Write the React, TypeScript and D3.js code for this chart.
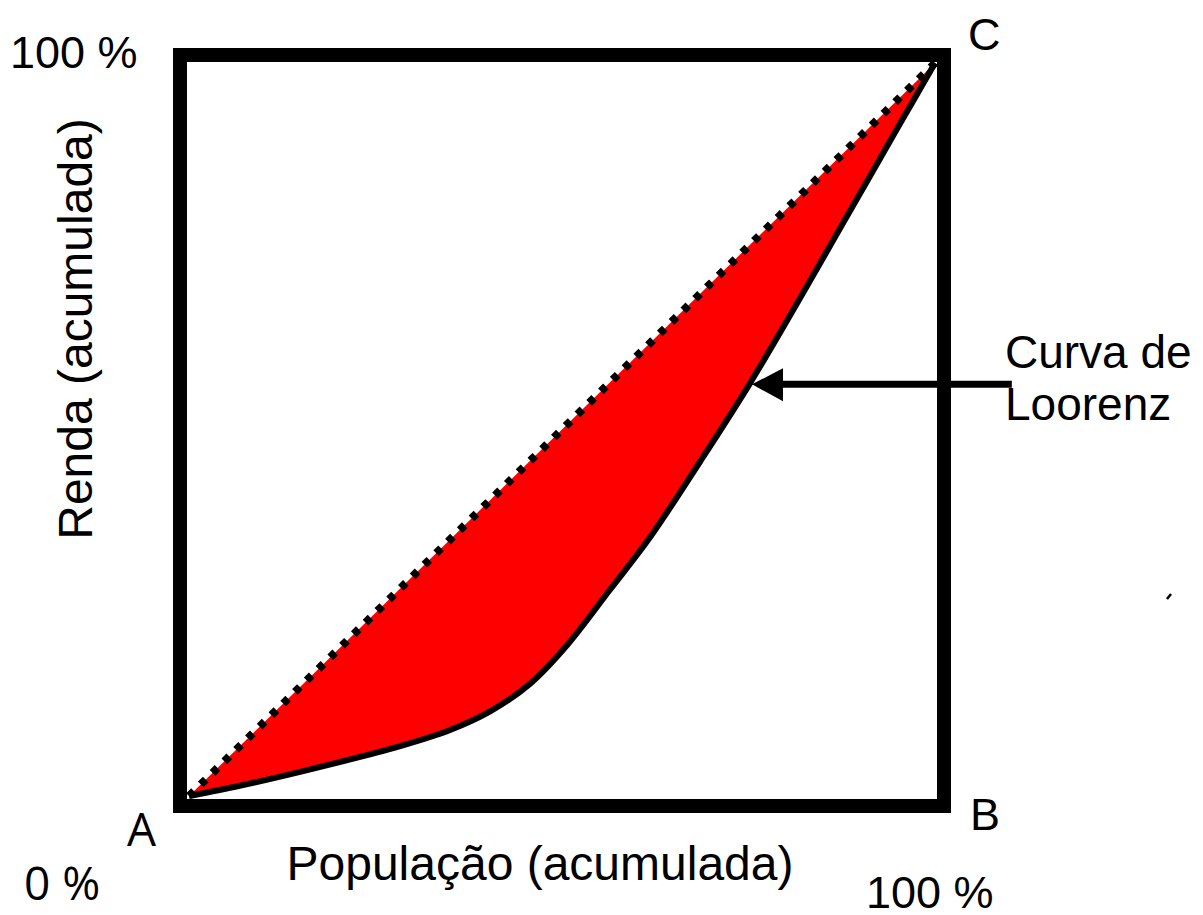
import * as d3 from "d3";

// cumulative population share (x) and income share (y)
const popShare = [0, 0.068, 0.149, 0.283, 0.35, 0.403, 0.457, 0.507, 0.564, 0.618, 0.685, 0.752, 0.819, 0.886, 0.953, 1];
const incomeShare = [0, 0.014, 0.033, 0.068, 0.09, 0.115, 0.153, 0.206, 0.281, 0.353, 0.456, 0.563, 0.679, 0.798, 0.917, 1];
const equality = [0, 1];
const arrowIndex = 11;

const W = 1203;
const H = 915;

const App = () => {
  const x = d3.scaleLinear().domain([0, 1]).range([189, 935]);
  const y = d3.scaleLinear().domain([0, 1]).range([796, 63]);

  const pts: [number, number][] = popShare.map((p, i) => [p, incomeShare[i]]);

  const curve = d3
    .line<[number, number]>()
    .x((d) => x(d[0]))
    .y((d) => y(d[1]))
    .curve(d3.curveCatmullRom.alpha(0.5));

  const diag = d3
    .line<number>()
    .x((d) => x(d))
    .y((d) => y(d));

  // red gap: lorenz curve out, diagonal back
  const fillPath = curve(pts) + "L" + x(0) + "," + y(0) + "Z";

  const tipX = x(popShare[arrowIndex]) + 2;
  const tipY = y(incomeShare[arrowIndex]) + 1;

  const sans = "'Liberation Sans', Arial, sans-serif";
  const calib = "'Open Sans', sans-serif";

  return (
    <svg width={W} height={H} style={{ position: "absolute", left: 0, top: 0 }}>
      <rect width={W} height={H} fill="#fff" />
      <path d={fillPath} fill="#ff0000" />
      <path d={curve(pts) || ""} fill="none" stroke="#000" strokeWidth={6} />
      <path
        d={diag(equality) || ""}
        fill="none"
        stroke="#000"
        strokeWidth={8}
        strokeDasharray="7 9.5"
      />
      <rect x={180} y={55} width={764} height={751} fill="none" stroke="#000" strokeWidth={14} />

      <line x1={x(1.103)} y1={tipY} x2={tipX + 28} y2={tipY} stroke="#000" strokeWidth={7} />
      <polygon
        points={`${tipX},${tipY} ${tipX + 31},${tipY - 16} ${tipX + 31},${tipY + 17}`}
        fill="#000"
      />

      <line x1={1167} y1={599} x2={1171} y2={594} stroke="#000" strokeWidth={2.5} />

      <g fontFamily={sans} fill="#000">
        <text x={10} y={68} fontSize={45}>100 %</text>
        <text x={968} y={50} fontSize={45}>C</text>
        <text x={970} y={830} fontSize={45}>B</text>
        <text x={866} y={908} fontSize={45}>100 %</text>
        <text x={540} y={880} fontSize={48} textAnchor="middle">População (acumulada)</text>
        <text transform="translate(92,329) rotate(-90)" fontSize={48} textAnchor="middle">
          Renda (acumulada)
        </text>
        <text x={1005} y={368} fontSize={46}>Curva de</text>
        <text x={1005} y={420} fontSize={46}>Loorenz</text>
      </g>
      <g fontFamily={calib} fill="#000">
        <text x={127} y={846} fontSize={46}>A</text>
        <text x={24} y={900} fontSize={46}>0 %</text>
      </g>
    </svg>
  );
};

export default App;
